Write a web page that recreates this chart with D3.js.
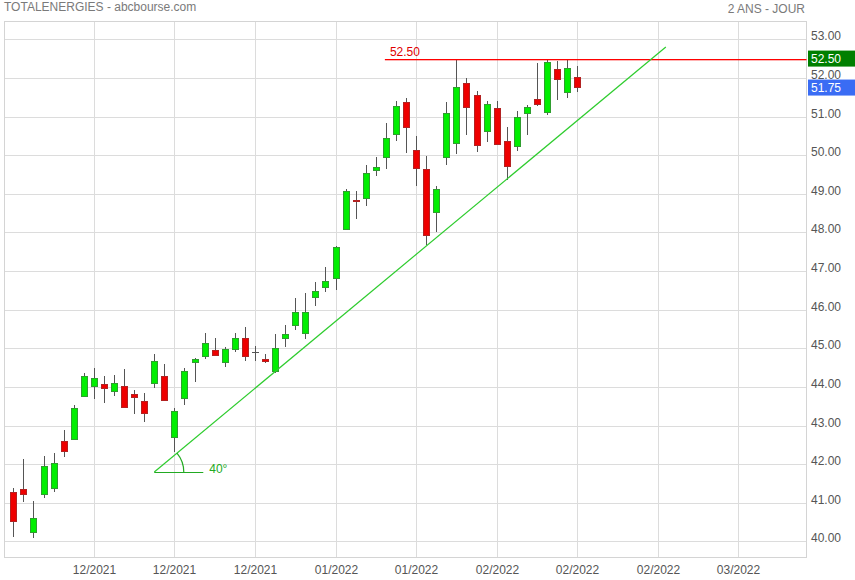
<!DOCTYPE html>
<html><head><meta charset="utf-8">
<script src="https://cdn.jsdelivr.net/npm/d3@7"></script>
<style>
html,body{margin:0;padding:0;background:#fff;}
svg{display:block;font-family:Arial,"Liberation Sans",sans-serif;}
</style></head>
<body>
<svg id="chart" width="855" height="580"></svg>
<script>
// ---- data ----
const title = "TOTALENERGIES - abcbourse.com";
const period = "2 ANS - JOUR";
const opens  = [41.27,41.35,40.21,41.19,41.37,42.60,42.62,43.73,43.99,44.07,43.88,44.02,43.83,43.63,44.08,44.28,42.68,43.69,44.63,44.77,44.95,44.61,44.96,45.26,44.90,44.72,44.38,45.23,45.57,45.38,46.30,46.55,46.80,48.06,48.85,48.86,49.60,49.92,50.52,51.38,50.13,49.64,48.49,49.92,50.30,51.87,51.55,50.60,51.22,50.37,50.21,51.06,51.45,51.09,52.23,51.61,52.02];
const highs  = [41.39,42.13,41.04,42.21,42.28,42.88,43.52,44.35,44.48,44.28,44.31,44.46,43.92,43.84,44.85,44.59,43.45,44.49,44.74,45.40,45.26,45.04,45.40,45.55,45.05,44.84,45.36,45.60,46.30,46.43,46.71,47.10,47.65,49.12,49.07,49.75,49.96,50.84,51.41,51.48,50.50,49.98,49.20,51.37,52.49,52.00,51.67,51.39,51.39,50.73,51.15,51.31,52.38,52.47,52.44,52.49,52.30];
const lows   = [40.12,41.03,40.09,41.13,41.28,42.19,42.62,43.73,43.69,43.59,43.77,43.46,43.31,43.10,43.98,43.64,42.32,43.54,44.13,44.73,44.79,44.51,44.91,44.68,44.68,44.61,44.35,45.03,45.48,45.25,46.10,46.45,46.52,48.06,48.34,48.69,49.45,49.65,50.37,50.05,49.19,47.68,48.00,49.75,50.04,50.51,50.07,50.35,50.26,49.36,50.12,50.51,51.26,51.03,51.43,51.48,51.63];
const closes = [40.51,41.19,40.60,41.95,42.02,42.32,43.45,44.28,44.22,43.95,44.09,43.46,43.72,43.29,44.66,43.64,43.38,44.40,44.72,45.13,44.79,44.97,45.26,44.77,44.90,44.64,45.00,45.36,45.93,45.93,46.48,46.74,47.62,49.07,48.80,49.53,49.69,50.44,51.28,50.70,49.64,47.92,49.12,51.09,51.76,51.23,50.23,51.32,50.26,49.70,50.98,51.24,51.29,52.41,51.94,52.25,51.75];
const yTicks = [40,41,42,43,44,45,46,47,48,49,50,51,52,53];
const xTickIndex = [8,16,24,32,40,48,56,64,72];
const xTickLabels = ["12/2021","12/2021","12/2021","01/2022","01/2022","02/2022","02/2022","02/2022","03/2022"];
const resistance = 52.50;
const resistanceStart = 36.9;
const trendStart = [14, 41.80];
const trendEnd = [64.8, 52.80];
const trendAngleLabel = "40°";
const lastPrice = 51.75;

// ---- layout ----
const L = 4.5, R = 806.5, T = 21.5, B = 557.5;
const svg = d3.select("#chart");
const x = d3.scaleLinear().domain([(L-13.3)/10.07, (R-13.3)/10.07]).range([L, R]);
const y = d3.scaleLinear().domain([39.585, 53.46]).range([B, T]);
const candles = opens.map((o,i)=>({i, o, h:highs[i], l:lows[i], c:closes[i]}));
const crisp = v => Math.round(v) + 0.5;
const gridCol = "#dcdcdc";

// title texts
svg.append("text").attr("x",4).attr("y",11).attr("font-size",12).attr("fill","#7a7a7a").text(title);
svg.append("text").attr("x",805).attr("y",13).attr("text-anchor","end").attr("font-size",12).attr("fill","#7a7a7a").text(period);

// grid
const g = svg.append("g");
g.selectAll("line.hg").data(yTicks).join("line")
  .attr("x1",L).attr("x2",R).attr("y1",d=>crisp(y(d))).attr("y2",d=>crisp(y(d)))
  .attr("stroke",gridCol).attr("stroke-width",1);
g.selectAll("line.vg").data(xTickIndex).join("line")
  .attr("x1",d=>crisp(x(d))).attr("x2",d=>crisp(x(d))).attr("y1",T).attr("y2",B)
  .attr("stroke",gridCol).attr("stroke-width",1);
g.append("rect").attr("x",L).attr("y",T).attr("width",R-L).attr("height",B-T)
  .attr("fill","none").attr("stroke","#d4d4d4");

// axis labels
svg.selectAll("text.yl").data(yTicks).join("text")
  .attr("x",811).attr("y",d=>y(d)+1).attr("font-size",12).attr("fill","#555")
  .text(d=>d3.format(".2f")(d));
svg.selectAll("text.xl").data(xTickIndex).join("text")
  .attr("x",d=>crisp(x(d))).attr("y",574).attr("text-anchor","middle").attr("font-size",12).attr("fill","#555")
  .text((d,k)=>xTickLabels[k]);

// candles
const cg = svg.append("g");
candles.forEach(d=>{
  const c = Math.round(x(d.i));
  const up = d.c > d.o, flat = Math.abs(d.c-d.o) < 0.005;
  cg.append("line").attr("x1",c+0.5).attr("x2",c+0.5)
    .attr("y1",Math.round(y(d.h))).attr("y2",Math.round(y(d.l)))
    .attr("stroke","#555").attr("stroke-width",1);
  if (flat) {
    cg.append("line").attr("x1",c-3).attr("x2",c+4)
      .attr("y1",crisp(y(d.o))).attr("y2",crisp(y(d.o)))
      .attr("stroke","#555").attr("stroke-width",1);
  } else {
    const top = Math.round(y(Math.max(d.o,d.c))), bot = Math.round(y(Math.min(d.o,d.c)));
    cg.append("rect").attr("x",c-2.5).attr("y",top+0.5)
      .attr("width",6).attr("height",Math.max(1,bot-top-1))
      .attr("fill", up ? "#00ee00" : "#ee0000")
      .attr("stroke", up ? "#2f9e2f" : "#b22222").attr("stroke-width",1);
  }
});

// resistance line
svg.append("rect").attr("x",x(resistanceStart)).attr("width",R-x(resistanceStart))
  .attr("y",Math.round(y(resistance))).attr("height",1.3)
  .attr("fill","#ff0000");
svg.append("text").attr("x",x(resistanceStart)+5).attr("y",y(resistance)-2.5)
  .attr("font-size",12).attr("fill","#e00000").text(d3.format(".2f")(resistance));

// trend line
const tg = svg.append("g");
const x0 = x(trendStart[0]), y0 = y(trendStart[1]);
tg.append("line").attr("x1",x0).attr("y1",y0).attr("x2",x(trendEnd[0])).attr("y2",y(trendEnd[1]))
  .attr("stroke","#2ecc2e").attr("stroke-width",1.2);
tg.append("line").attr("x1",x0).attr("y1",crisp(y0)).attr("x2",x0+49).attr("y2",crisp(y0))
  .attr("stroke","#22aa22").attr("stroke-width",1.2);
const ang = Math.atan2(y0 - y(trendEnd[1]), x(trendEnd[0]) - x0);
const r = 29.5;
tg.append("path")
  .attr("d",`M${x0+r},${y0} A${r},${r} 0 0 0 ${x0+r*Math.cos(ang)},${y0-r*Math.sin(ang)}`)
  .attr("fill","none").attr("stroke","#22aa22").attr("stroke-width",1.2);
tg.append("text").attr("x",x0+55).attr("y",y0+1).attr("font-size",12).attr("fill","#22aa22").text(trendAngleLabel);

// price tags
function tag(v, col){
  const yy = y(v);
  svg.append("rect").attr("x",808).attr("y",yy-8).attr("width",47).attr("height",16).attr("fill",col);
  svg.append("text").attr("x",811).attr("y",yy+4.5).attr("font-size",12).attr("fill","#fff").text(d3.format(".2f")(v));
}
tag(resistance, "#007f00");
tag(lastPrice, "#3a6cf4");
</script>
</body></html>
